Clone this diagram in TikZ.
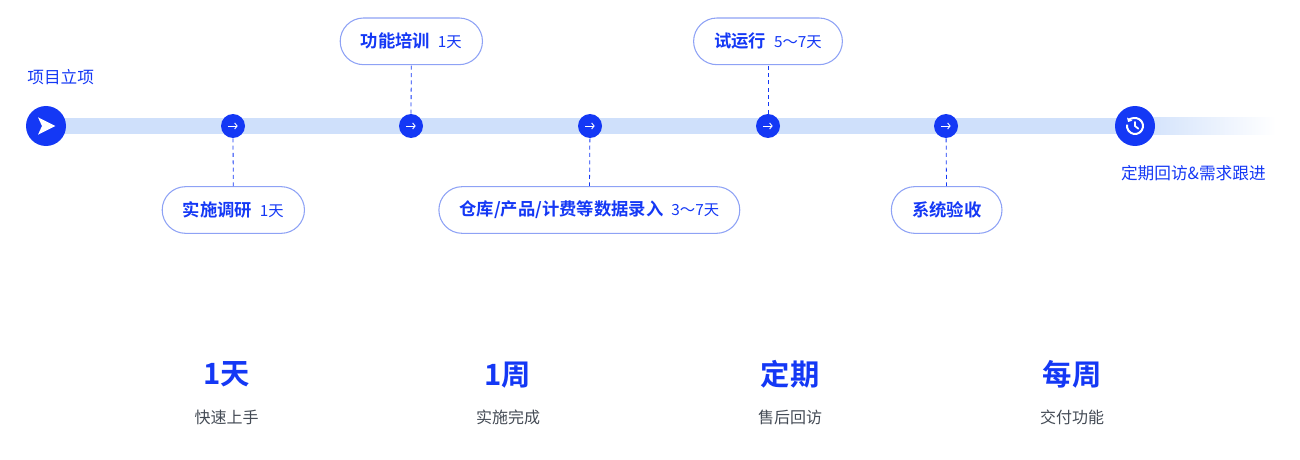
\documentclass[tikz,border=0pt]{standalone}
\usepackage{fontspec}
\setmainfont{Noto Sans CJK SC}
\newfontfamily\cjkb{Noto Sans CJK SC Bold}
\newcommand\dsm{\fontsize{11.5}{13}\selectfont}
\usetikzlibrary{arrows.meta}
\definecolor{mb}{HTML}{1438F5}
\definecolor{bar}{HTML}{CFE0FB}
\definecolor{pillb}{HTML}{8EA2F5}
\definecolor{gt}{HTML}{444B55}
\begin{document}
\begin{tikzpicture}[x=1pt,y=-1pt,
 pill/.style={draw=pillb,line width=0.8pt,rounded corners=17.5pt,minimum height=35pt,inner xsep=15.5pt,text=mb,font=\fontsize{13}{15}\selectfont},
 dot/.style={circle,fill=mb,minimum size=18pt,inner sep=0pt},
 conn/.style={mb,dashed,dash pattern=on 3pt off 2.5pt,line width=0.6pt},
 big/.style={text=mb,font=\cjkb\fontsize{22}{24}\selectfont},
 sub/.style={text=gt,font=\fontsize{12}{14}\selectfont}]
\useasboundingbox (0,0) rectangle (975,345);
\fill[bar] (34,88.5) rectangle (852,100.5);
\shade[left color=bar,right color=white] (852,88.5) rectangle (957,100.5);
\node[circle,fill=mb,minimum size=30pt,inner sep=0pt] (s) at (34.5,94.5) {};
\fill[white] ([xshift=-6pt,yshift=-6.5pt]s.center) -- ([xshift=7pt]s.center) -- ([xshift=-6pt,yshift=6.5pt]s.center) -- ([xshift=-3pt]s.center) -- cycle;
\node[text=mb,font=\fontsize{12.5}{14}\selectfont,anchor=west] (t0) at (17,58) {项目立项};
\foreach \n/\x in {d1/174.75,d2/308.25,d3/442.5,d4/576,d5/709.5}{
 \node[dot] (\n) at (\x,94.5) {};
 \draw[white,line width=0.7pt,-{Straight Barb[length=1.8pt,width=4.5pt]}] ([xshift=-3.5pt]\n.center) -- ([xshift=3.5pt]\n.center);
}
\node[circle,fill=mb,minimum size=30pt,inner sep=0pt] (e) at (851.25,94.5) {};
\begin{scope}[shift={(e.center)},y=1pt]
\draw[white,line width=1.5pt,-{Triangle[length=2.5pt,width=4.5pt]}] (-190:6pt) arc[start angle=-190,end angle=150,radius=6pt];
\draw[white,line width=1.3pt,line cap=round] (0,3pt) -- (0,0) -- (2.5pt,-2pt);
\end{scope}
\node[text=mb,font=\fontsize{12.5}{14}\selectfont] (t6) at (895,130) {定期回访\&需求跟进};
\node[pill] (p1) at (175,157.5) {{\cjkb 实施调研}\ \ {\dsm 1天}};
\node[pill] (p2) at (308.5,31) {{\cjkb 功能培训}\ \ {\dsm 1天}};
\node[pill] (p3) at (442,157.5) {{\cjkb 仓库/产品/计费等数据录入}\ \ {\dsm 3～7天}};
\node[pill] (p4) at (576,31) {{\cjkb 试运行}\ \ {\dsm 5～7天}};
\node[pill] (p5) at (710,157.5) {{\cjkb 系统验收}};
\draw[conn] (d1) -- (p1); \draw[conn] (d2) -- (p2); \draw[conn] (d3) -- (p3);
\draw[conn] (d4) -- (p4); \draw[conn] (d5) -- (p5);
\foreach \n/\x/\a/\b in {a/170/1天/快速上手,b/381/1周/实施完成,c/592.5/定期/售后回访,d/804/每周/交付功能}{
 \node[big] (\n1) at (\x,281) {\a};
 \node[sub] (\n2) at (\x,313) {\b};
}
\end{tikzpicture}
\end{document}
